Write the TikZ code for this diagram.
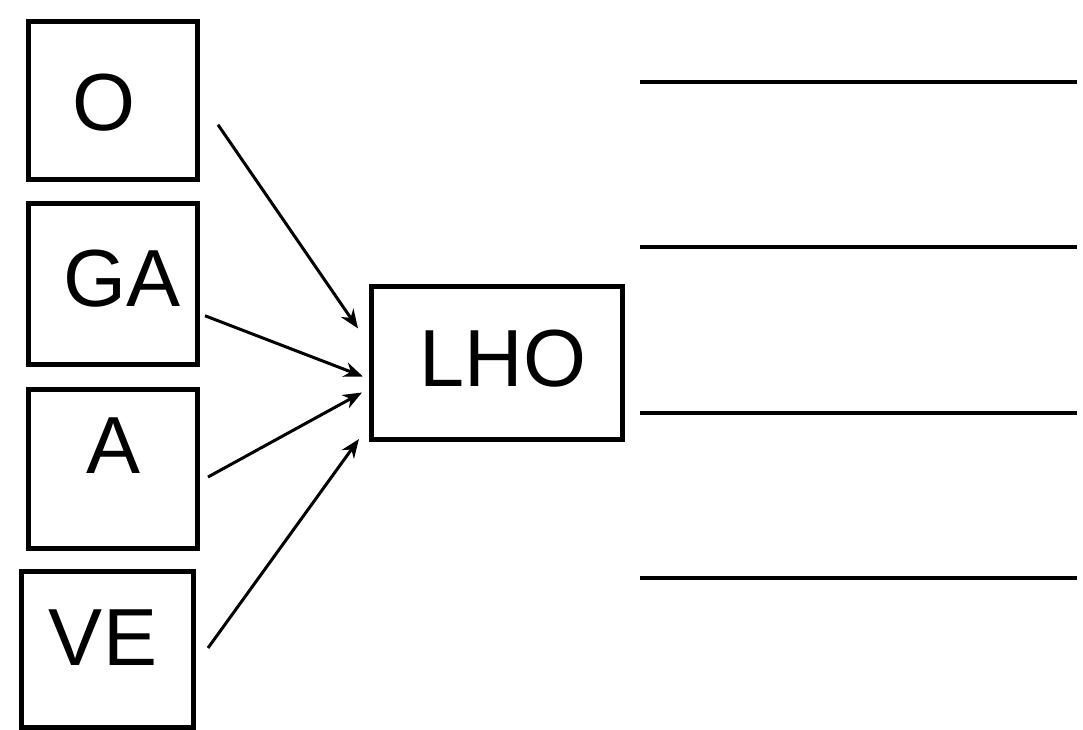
\documentclass[tikz,border=0pt]{standalone}
\usepackage{fontspec}
\setmainfont{Liberation Sans}
\usetikzlibrary{arrows.meta}
\begin{document}
\begin{tikzpicture}[x=1pt,y=-1pt,
  box/.style={draw,line width=5pt,inner sep=0pt,outer sep=0pt},
  lbl/.style={anchor=base,inner sep=0pt,font=\fontsize{81}{90}\selectfont},
  arr/.style={line width=3pt,-{Stealth[length=19pt,width=15pt,inset=6pt]}},
  rule/.style={line width=3.2pt}]
\useasboundingbox (0,0) rectangle (1083,730);
\fill[white] (0,0) rectangle (1083,730);
\begin{scope}
\clip (0,0) rectangle (1083,730);
% input boxes
\node[box,minimum width=169pt,minimum height=158.5pt] (O)  at (112.5,100.75) {};
\node[box,minimum width=169pt,minimum height=160.5pt] (GA) at (112.5,283.75) {};
\node[box,minimum width=169pt,minimum height=159pt]   (A)  at (112.5,468.5) {};
\node[box,minimum width=171.5pt,minimum height=156pt] (VE) at (107.25,649) {};
% target box
\node[box,minimum width=251pt,minimum height=153pt] (LHO) at (496.5,362.5) {};
\end{scope}
% labels
\node[lbl] (tO)   at (104,131) {O};
\node[lbl] (tGA)  at (122,306) {GA};
\node[lbl] (tA)   at (114,473) {A};
\node[lbl] (tVE)  at (103,665) {VE};
\node[lbl] (tLHO) at (503,386) {LHO};
% arrows
\draw[arr] ([shift={(21,24)}]O.east)  -- ([shift={(-13,-34)}]LHO.west);
\draw[arr] ([shift={(8,32)}]GA.east)  -- ([shift={(-8,14)}]LHO.west);
\draw[arr] ([shift={(11,8.5)}]A.east) -- ([shift={(-9,30)}]LHO.west);
\draw[arr] ([shift={(15,-1)}]VE.east) -- ([shift={(-12,0)}]LHO.south west);
% blank lines
\coordinate (l1a) at (640,82);  \coordinate (l1b) at (1077,82);
\coordinate (l2a) at (640,247); \coordinate (l2b) at (1077,247);
\coordinate (l3a) at (640,413); \coordinate (l3b) at (1077,413);
\coordinate (l4a) at (640,578); \coordinate (l4b) at (1077,578);
\draw[rule] (l1a) -- (l1b);
\draw[rule] (l2a) -- (l2b);
\draw[rule] (l3a) -- (l3b);
\draw[rule] (l4a) -- (l4b);
\end{tikzpicture}
\end{document}
